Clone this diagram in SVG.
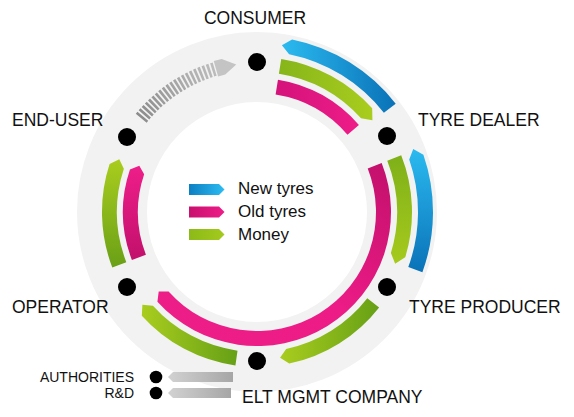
<svg xmlns="http://www.w3.org/2000/svg" width="574" height="417" viewBox="0 0 574 417">
<style>
  .lbl{font-family:"Liberation Sans",Arial,sans-serif;font-size:17.5px;fill:#111}
  .leg{font-family:"Liberation Sans",Arial,sans-serif;font-size:17px;fill:#111}
  .sm{font-family:"Liberation Sans",Arial,sans-serif;font-size:14px;fill:#111}
  .dot{fill:#000}
</style>
<defs>
  <linearGradient id="blueH" x1="0" y1="0" x2="1" y2="0"><stop offset="0" stop-color="#2bbaf0"/><stop offset="1" stop-color="#0a72b8"/></linearGradient>
  <linearGradient id="blueV" x1="0" y1="0" x2="0" y2="1"><stop offset="0" stop-color="#2bbaf0"/><stop offset="1" stop-color="#0a72b8"/></linearGradient>
  <linearGradient id="blueL" x1="0" y1="0" x2="1" y2="0"><stop offset="0" stop-color="#0d7fc3"/><stop offset="1" stop-color="#2cbcf1"/></linearGradient>
  <linearGradient id="grnH1" x1="0" y1="0" x2="1" y2="0"><stop offset="0" stop-color="#86b51a"/><stop offset="1" stop-color="#a9cd1e"/></linearGradient>
  <linearGradient id="grnV1" x1="0" y1="0" x2="0" y2="1"><stop offset="0" stop-color="#7fb019"/><stop offset="1" stop-color="#a6ca1d"/></linearGradient>
  <linearGradient id="grnLD" x1="0" y1="0" x2="1" y2="0"><stop offset="0" stop-color="#a9cd1e"/><stop offset="1" stop-color="#66a016"/></linearGradient>
  <linearGradient id="grnTD" x1="0" y1="0" x2="0" y2="1"><stop offset="0" stop-color="#a9cd1e"/><stop offset="1" stop-color="#6aa017"/></linearGradient>
  <linearGradient id="grnL" x1="0" y1="0" x2="1" y2="0"><stop offset="0" stop-color="#8cba19"/><stop offset="1" stop-color="#a4ca1c"/></linearGradient>
  <linearGradient id="pnkH" x1="0" y1="0" x2="1" y2="0"><stop offset="0" stop-color="#d4137a"/><stop offset="1" stop-color="#ee1c88"/></linearGradient>
  <linearGradient id="pnkLong" x1="1" y1="0" x2="0" y2="1"><stop offset="0" stop-color="#c2106c"/><stop offset="0.5" stop-color="#ec1b86"/><stop offset="1" stop-color="#ee1e89"/></linearGradient>
  <linearGradient id="pnkV" x1="0" y1="0" x2="0" y2="1"><stop offset="0" stop-color="#ee1e89"/><stop offset="1" stop-color="#c2106c"/></linearGradient>
  <linearGradient id="pnkL" x1="0" y1="0" x2="1" y2="0"><stop offset="0" stop-color="#c8106e"/><stop offset="1" stop-color="#ee1c88"/></linearGradient>
  <linearGradient id="gryS" gradientUnits="userSpaceOnUse" x1="141" y1="118" x2="216" y2="69"><stop offset="0" stop-color="#8c8c8c"/><stop offset="1" stop-color="#bdbdbd"/></linearGradient>
  <linearGradient id="gryA" x1="0" y1="0" x2="1" y2="0"><stop offset="0" stop-color="#d2d2d2"/><stop offset="1" stop-color="#a6a6a6"/></linearGradient>
</defs>
<rect width="574" height="417" fill="#fff"/>
<circle cx="257" cy="212" r="145" fill="none" stroke="#f2f2f2" stroke-width="70"/>

<g id="connectors">
  <path id="new-tyres-dealer-consumer" fill="url(#blueH)" d="M292.09,39.54 A176,176 0 0 1 395.69,103.64 L383.87,112.87 A161,161 0 0 0 289.10,54.24 L281.90,45.35 Z"/>
  <path id="money-consumer-dealer" fill="url(#grnH1)" d="M281.24,58.91 A155,155 0 0 1 372.18,108.29 L372.43,120.18 L361.03,118.33 A140,140 0 0 0 278.90,73.72 Z"/>
  <path id="old-tyres-consumer-dealer" fill="url(#pnkH)" d="M277.96,79.65 A134,134 0 0 1 358.89,124.98 L347.49,134.72 A119,119 0 0 0 275.61,94.46 Z"/>
  <path id="new-tyres-producer-dealer" fill="url(#blueV)" d="M423.41,154.69 A176,176 0 0 1 422.39,272.19 L408.29,267.06 A161,161 0 0 0 409.23,159.58 L413.23,148.88 Z"/>
  <path id="money-dealer-producer" fill="url(#grnV1)" d="M401.21,155.19 A155,155 0 0 1 405.23,257.32 L395.16,263.65 L390.88,252.94 A140,140 0 0 0 387.26,160.69 Z"/>
  <path id="old-tyres-long" fill="url(#pnkLong)" d="M381.67,162.89 A134,134 0 0 1 157.42,301.66 L158.70,291.61 L168.57,291.62 A119,119 0 0 0 367.72,168.39 Z"/>
  <path id="money-producer-elt" fill="url(#grnLD)" d="M379.14,307.43 A155,155 0 0 1 289.22,363.61 L280.07,357.69 L286.11,348.93 A140,140 0 0 0 367.32,298.20 Z"/>
  <path id="money-elt-operator" fill="url(#grnLD)" d="M235.42,365.50 A155,155 0 0 1 141.82,315.71 L142.38,304.82 L152.97,305.67 A140,140 0 0 0 237.51,350.64 Z"/>
  <path id="money-operator-enduser" fill="url(#grnTD)" d="M112.29,267.55 A155,155 0 0 1 109.58,164.10 L119.29,159.14 L123.85,168.74 A140,140 0 0 0 126.30,262.18 Z"/>
  <path id="old-tyres-operator-enduser" fill="url(#pnkV)" d="M131.90,260.03 A134,134 0 0 1 129.93,169.48 L139.30,165.64 L144.15,174.24 A119,119 0 0 0 145.90,254.65 Z"/>
  <g id="enduser-consumer">
    <path d="M141.21,118.23 A149,149 0 0 1 215.94,68.77" fill="none" stroke="url(#gryS)" stroke-width="14" stroke-dasharray="2.6 1.75"/>
    <polygon fill="#c4c4c4" points="213.73,61.08 221.67,59.02 236.26,64.45 225.27,74.61 218.14,76.46"/>
  </g>
  <polygon id="elt-authorities" fill="url(#gryA)" points="233,372 233,382 173,382 168,377 173,372"/>
  <polygon id="elt-rnd" fill="url(#gryA)" points="231,388 231,398 173,398 168,393 173,388"/>
</g>

<g id="node-consumer"><circle class="dot" cx="257" cy="62" r="9"/><text class="lbl" x="255" y="24" text-anchor="middle">CONSUMER</text></g>
<g id="node-tyre-dealer"><circle class="dot" cx="387" cy="136" r="9"/><text class="lbl" x="418" y="126">TYRE DEALER</text></g>
<g id="node-tyre-producer"><circle class="dot" cx="387" cy="287" r="9"/><text class="lbl" x="409" y="313">TYRE PRODUCER</text></g>
<g id="node-elt"><circle class="dot" cx="257" cy="361" r="9"/><text class="lbl" x="242" y="403">ELT MGMT COMPANY</text></g>
<g id="node-operator"><circle class="dot" cx="127" cy="287" r="9"/><text class="lbl" x="12" y="313">OPERATOR</text></g>
<g id="node-end-user"><circle class="dot" cx="127" cy="137" r="9"/><text class="lbl" x="12" y="126">END-USER</text></g>
<g id="node-authorities"><circle class="dot" cx="156" cy="377" r="6.3"/><text class="sm" x="134" y="382" text-anchor="end">AUTHORITIES</text></g>
<g id="node-rnd"><circle class="dot" cx="156" cy="393" r="6.3"/><text class="sm" x="134" y="398" text-anchor="end">R&amp;D</text></g>

<g id="legend">
  <polygon fill="url(#blueL)" points="189,184 219,184 224.5,189.5 219,195 189,195"/>
  <text class="leg" x="238" y="194">New tyres</text>
  <polygon fill="url(#pnkL)" points="189,206.5 219,206.5 224.5,212 219,217.5 189,217.5"/>
  <text class="leg" x="238" y="217">Old tyres</text>
  <polygon fill="url(#grnL)" points="189,229 219,229 224.5,234.5 219,240 189,240"/>
  <text class="leg" x="238" y="240">Money</text>
</g>
</svg>
